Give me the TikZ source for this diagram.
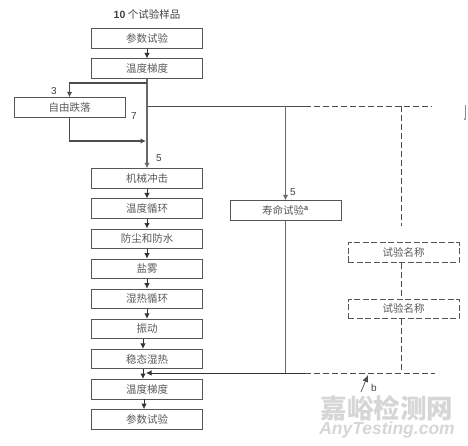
\documentclass[tikz,border=0pt]{standalone}
\usepackage{fontspec}
\setmainfont{Noto Sans CJK SC}
\newfontfamily\latinfont{Liberation Sans}
\usepackage{tikz}
\usetikzlibrary{positioning,arrows.meta}
\definecolor{boxline}{RGB}{85, 85, 85}
\definecolor{trunkgray}{RGB}{105, 105, 105}
\definecolor{labelgray}{RGB}{90, 90, 90}
\definecolor{markgray}{RGB}{214, 214, 214}
\tikzset{
  testbox/.style={draw=boxline,line width=0.9pt,minimum width=111pt,minimum height=19.5pt,inner sep=0pt,text=labelgray,font=\fontsize{10.5}{12}\selectfont},
  dashbox/.style={testbox,dashed,dash pattern=on 6pt off 2.5pt},
  flow/.style={draw=black!80,line width=0.9pt,-{Latex[length=5.5pt,width=5.5pt]}},
  trunk/.style={draw=trunkgray,line width=1.8pt,-{Latex[length=5.5pt,width=5.5pt]}},
  sideline/.style={draw=black!70,line width=1.2pt,-{Latex[length=5.5pt,width=5.5pt]}},
  thinline/.style={draw=black!70,line width=0.9pt},
  dashline/.style={draw=black!70,line width=0.9pt,dash pattern=on 6pt off 3pt},
  numlabel/.style={font=\latinfont\fontsize{10}{12}\selectfont,text=black!75,inner sep=0pt},
}
\begin{document}
\begin{tikzpicture}[x=1pt,y=-1pt,node distance=9.7pt]
  \useasboundingbox (0,0) rectangle (468,445);
  % left column
  \node[font=\fontsize{10.5}{12}\selectfont,text=black!75] (title) at (147,14) {{\latinfont\bfseries 10} 个试验样品};
  \node[testbox] (para1) at (147,38.5) {参数试验};
  \node[testbox,below=of para1] (grad1) {温度梯度};
  \node[testbox] (fall) at (69.5,107.5) {自由跌落};
  \node[testbox] (shock) at (147,178.5) {机械冲击};
  \node[testbox,below=of shock] (cycle) {温度循环};
  \node[testbox,below=of cycle] (dust) {防尘和防水};
  \node[testbox,below=of dust] (salt) {盐雾};
  \node[testbox,below=of salt] (damp) {湿热循环};
  \node[testbox,below=of damp] (vibr) {振动};
  \node[testbox,below=of vibr] (steady) {稳态湿热};
  \node[testbox,below=of steady] (grad2) {温度梯度};
  \node[testbox,below=of grad2] (para2) {参数试验};
  % middle and right
  \node[testbox] (life) at (285.5,210.5) {寿命试验\textsuperscript{\latinfont\bfseries a}};
  \node[dashbox] (name1) at (403.5,252.5) {试验名称};
  \node[dashbox,below=36pt of name1] (name2) {试验名称};
  % free ends
  \coordinate (topsolid) at (305,106);
  \coordinate (topend) at (432,106);
  \coordinate (botjoin) at (146,373);
  \coordinate (botsolid) at (305,373);
  \coordinate (botend) at (435,373);
  \coordinate (branch) at (147,83);
  \coordinate (back) at (146,141);
  \coordinate (dashtop) at (401,106);
  \coordinate (dashmid) at (401,226);
  \coordinate (bstart) at (361,392);
  \coordinate (btip) at (368,375);
  \coordinate (stray) at (465,105);
  \coordinate (strayend) at (465,120);
  % connectors
  \draw[flow] (para1) -- (grad1);
  \draw[trunk] (grad1) -- (shock);
  \draw[sideline] (branch) -| (fall);
  \draw[sideline] (fall) |- (back);
  \draw[thinline] (grad1 |- topsolid) -- (topsolid);
  \draw[dashline] (topsolid) -- (topend);
  \draw[trunk] (life |- topsolid) -- (life);
  \draw[trunk,-] (life) -- (life |- botsolid);
  \draw[flow] (botsolid) -- (botjoin);
  \draw[dashline] (botsolid) -- (botend);
  \draw[dashline] (dashtop) -- (dashmid);
  \draw[dashline] ([xshift=-2.5pt]name1.south) -- ([xshift=-2.5pt]name2.north);
  \draw[dashline] ([xshift=-2.5pt]name2.south) -- ([xshift=-2.5pt]name2.south |- botsolid);
  \draw[flow] (shock) -- (cycle);
  \draw[flow] (cycle) -- (dust);
  \draw[flow] (dust) -- (salt);
  \draw[flow] (salt) -- (damp);
  \draw[flow] (damp) -- (vibr);
  \draw[flow] ([xshift=-4pt]vibr.south) -- ([xshift=-4pt]steady.north);
  \draw[flow] ([xshift=-4pt]steady.south) -- ([xshift=-4pt]grad2.north);
  \draw[flow] ([xshift=-3pt]grad2.south) -- ([xshift=-3pt]para2.north);
  \draw[thinline,line width=0.7pt,-{Latex[length=7pt,width=6pt]}] (bstart) -- (btip);
  \draw[draw=black!45,line width=0.4pt,-{Circle[length=2pt]}] (stray) -- (strayend);
  % number labels
  \node[numlabel] (n3) at (54,91) {3};
  \node[numlabel] (n7) at (134,116) {7};
  \node[numlabel] (n5a) at (159,158) {5};
  \node[numlabel] (n5b) at (293,192) {5};
  \node[numlabel] (nb) at (374,388) {b};
  % watermark
  \node[font=\bfseries\fontsize{26.5}{30}\selectfont,text=markgray,inner sep=0pt] (markcn) at (387,408) {嘉峪检测网};
  \node[font=\latinfont\bfseries\itshape\fontsize{17.5}{18}\selectfont,text=markgray,inner sep=0pt] (markla) at (387,430) {AnyTesting.com};
\end{tikzpicture}
\end{document}
